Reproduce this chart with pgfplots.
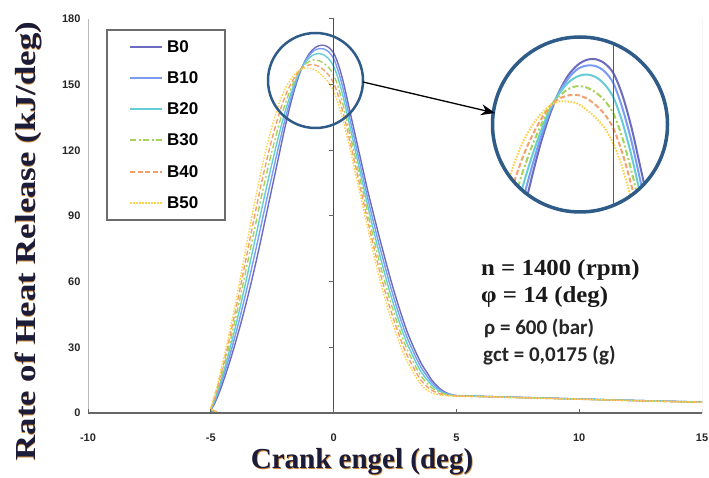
\documentclass[border=0pt]{standalone}
\usepackage{graphicx}
\usepackage{pgfplots}
\pgfplotsset{compat=1.18}
\usepackage{pgfplotstable}
\usetikzlibrary{arrows.meta}
\usepackage{fontspec}
\setmainfont{Liberation Serif}
\newfontfamily\arialf{Liberation Sans}
\newfontfamily\calf{Carlito}
\definecolor{cB0}{HTML}{6B6BBF}
\definecolor{cB10}{HTML}{7B9CF5}
\definecolor{cB20}{HTML}{66CCD6}
\definecolor{cB30}{HTML}{A6D35A}
\definecolor{cB40}{HTML}{F5A06E}
\definecolor{cB50}{HTML}{FFD24D}
\definecolor{circ}{HTML}{2F5B88}
\definecolor{txt}{HTML}{1B1B3A}
\definecolor{shd}{HTML}{D08A3A}
\pgfplotstableread{
x B0 B10 B20 B30 B40 B50
-10 0 0 0 0 0 0
-5.1 0 0 0 0 0 0
-5.0 1.2 1.5 1.7 2.0 2.2 2.5
-4.8 5.5 6.4 7.3 8.2 9.1 10
-4.6 11 12.6 14.2 15.8 17.4 19
-4.4 17.5 19.7 21.9 24.1 26.3 28.5
-4.2 24.5 27.4 30.3 33.2 36.1 39
-4.0 32 35.6 39.2 42.8 46.4 50
-3.8 40 44.3 48.6 52.9 57.2 61.5
-3.6 48.5 53.5 58.5 63.5 68.5 73.5
-3.4 57.5 63.1 68.7 74.3 79.9 85.5
-3.2 67 73 79 85 91 97
-3.0 77 83.2 89.4 95.6 101.8 108
-2.8 87.5 93.6 99.7 105.8 111.9 118
-2.6 98 103.8 109.6 115.4 121.2 127
-2.4 108.5 113.8 119.1 124.4 129.7 135
-2.2 119 123.6 128.2 132.8 137.4 142
-2.0 129.5 133.1 136.7 140.3 143.9 147.5
-1.8 139 141.5 144 146.5 149 151.5
-1.6 147.5 148.9 150.3 151.7 153.1 154.5
-1.4 154.5 155.2 155.8 156.2 156.5 156.5
-1.2 160 159.8 159.5 158.8 158.2 157.5
-1.0 164 163.2 162.2 160.6 159 157.5
-0.8 166.5 165.5 163.7 161.3 159.1 157
-0.6 167.8 166.4 164.2 161 158.3 155.5
-0.4 168 166.3 163.6 159.8 156.7 153.5
-0.2 167 165 161.8 157.8 154.4 151
0 164.5 162 158.5 154.5 150.8 147
0.2 159 155.8 152.3 148.4 144.6 141
0.4 151 147.6 144 140.2 136.6 133
0.6 141 137.6 134.2 130.8 127.4 124
0.8 131 127.6 124.2 120.8 117.4 114
1.0 121 117.6 114.2 110.8 107.4 104
1.2 111 107.6 104.2 100.8 97.4 94
1.4 101 97.6 94.2 90.8 87.4 84
1.6 92 88.4 84.8 81.2 77.6 74
1.8 83 79.3 75.6 71.9 68.2 64.5
2.0 74.5 70.8 67.1 63.4 59.7 56
2.2 66 62.4 58.8 55.2 51.6 48
2.4 58 54.6 51.2 47.8 44.4 41
2.6 50.5 47.3 44.1 40.9 37.7 34.5
2.8 43.5 40.5 37.5 34.5 31.5 28.5
3.0 37 34.3 31.6 28.9 26.2 23.5
3.2 31.5 29.1 26.7 24.3 21.9 19.5
3.4 26.5 24.3 22.1 19.9 17.7 15.5
3.6 22 20.1 18.2 16.3 14.4 12.5
3.8 18.5 16.9 15.3 13.7 12.1 10.5
4.0 15 13.8 12.7 11.5 10.4 9.2
4.2 12.5 11.7 10.9 10.1 9.3 8.5
4.4 10.5 10.0 9.5 9.1 8.6 8.1
4.6 9.2 8.9 8.7 8.4 8.2 7.9
4.8 8.4 8.3 8.2 8.0 7.9 7.8
5.0 8 7.9 7.9 7.8 7.8 7.7
6 7.6 7.6 7.6 7.5 7.5 7.5
8 7 7 7 6.9 6.9 6.9
10 6.4 6.4 6.4 6.3 6.3 6.3
12 5.8 5.8 5.8 5.7 5.7 5.7
15 5 5 5 4.9 4.9 4.9
}\rhr
\tikzset{
  s0/.style={draw=cB0, line width=1.4pt},
  s10/.style={draw=cB10, line width=1.4pt},
  s20/.style={draw=cB20, line width=1.4pt},
  s30/.style={draw=cB30, line width=1.4pt, dash pattern=on 6pt off 2.5pt on 2pt off 2.5pt},
  s40/.style={draw=cB40, line width=1.4pt, dash pattern=on 5pt off 2.5pt},
  s50/.style={draw=cB50, line width=1.4pt, dash pattern=on 1.6pt off 1.4pt},
}
\begin{document}
\begin{tikzpicture}
\useasboundingbox (0,0) rectangle (709pt,477pt);
\begin{axis}[
  at={(88pt,64pt)}, anchor=south west, scale only axis,
  width=614pt, height=394pt,
  xmin=-10, xmax=15, ymin=0, ymax=180,
  xtick={-10,-5,0,5,10,15}, ytick={0,30,60,90,120,150,180},
  axis line style={draw=none}, major tick length=0pt,
  /pgf/number format/assume math mode=true,
  ticklabel style={font=\arialf\bfseries\fontsize{11}{11}\selectfont, text=black!85},
  xticklabel style={yshift=-17pt},
  yticklabel style={xshift=-4pt},
]
\draw[gray!55, line width=1pt] (axis cs:-10,0) -- (axis cs:-10,180);
\draw[gray!55, line width=1pt] (axis cs:15,0) -- (axis cs:15,180);
\addplot[s0, smooth] table[x=x,y=B0]{\rhr};
\addplot[s10, smooth] table[x=x,y=B10]{\rhr};
\addplot[s20, smooth] table[x=x,y=B20]{\rhr};
\addplot[s30, smooth] table[x=x,y=B30]{\rhr};
\addplot[s40, smooth] table[x=x,y=B40]{\rhr};
\addplot[s50, smooth] table[x=x,y=B50]{\rhr};
\draw[black!70, line width=1pt] (axis cs:0,0) -- (axis cs:0,180);
\draw[black!60, line width=1.5pt] (axis cs:-10,0) -- (axis cs:15,0);
\pgfplotsinvokeforeach{-10,-5,0,5,10,15}{\draw[black!60, line width=1pt] ([yshift=-4pt]axis cs:#1,0) -- ([yshift=4pt]axis cs:#1,0);}
\pgfplotsinvokeforeach{30,60,90,120,150,180}{\draw[black!60, line width=1pt] (axis cs:0,#1) -- ([xshift=-5pt]axis cs:0,#1);}
\end{axis}
% legend
\draw[gray!85!black, line width=1.2pt, fill=white] (107pt,257pt) rectangle (225pt,447pt);
\foreach \s/\n/\yy in {s0/B0/430, s10/B10/399, s20/B20/368, s30/B30/337, s40/B40/305, s50/B50/274}{
  \draw[\s] (130pt,\yy pt) -- (162pt,\yy pt);
  \node[anchor=west, inner sep=0pt, font=\arialf\bfseries\fontsize{17}{17}\selectfont] at (167pt,\yy pt) {\n};
}
% inset
\begin{scope}
\clip (580pt,352.5pt) circle (87.5pt);
\fill[white] (580pt,352.5pt) circle (87.5pt);
\begin{axis}[
  at={(492.5pt,265pt)}, anchor=south west, scale only axis,
  width=175pt, height=175pt, xmin=-2.676, xmax=1.196, ymin=130.1, ymax=173.5,
  hide axis, clip=false]
\addplot[s0, line width=2pt, smooth] table[x=x,y=B0]{\rhr};
\addplot[s10, line width=2pt, smooth] table[x=x,y=B10]{\rhr};
\addplot[s20, line width=2pt, smooth] table[x=x,y=B20]{\rhr};
\addplot[s30, line width=2pt, smooth] table[x=x,y=B30]{\rhr};
\addplot[s40, line width=2pt, smooth] table[x=x,y=B40]{\rhr};
\addplot[s50, line width=2pt, smooth] table[x=x,y=B50]{\rhr};
\draw[black!65, line width=1.6pt] (axis cs:0,120) -- (axis cs:0,180);
\end{axis}
\end{scope}
\draw[circ, line width=3.5pt] (580pt,352.5pt) circle (87.5pt);
\draw[circ, line width=2.5pt] (315.5pt,396.5pt) circle (47.5pt);
\draw[black, line width=1.3pt, -{Stealth[length=14pt,width=11pt]}] (363pt,395pt) -- (495pt,364pt);
% axis labels
\node[text=shd] at (362.8pt,14.2pt) {\fontsize{29}{29}\selectfont\bfseries Crank engel (deg)};
\node[text=txt] at (362pt,15pt) {\fontsize{29}{29}\selectfont\bfseries Crank engel (deg)};
\node[rotate=90, text=shd] at (28.8pt,235.2pt) {\scalebox{1.2}[1]{\fontsize{29}{29}\selectfont\bfseries Rate of Heat Release (kJ/deg)}};
\node[rotate=90, text=txt] at (28pt,236pt) {\scalebox{1.2}[1]{\fontsize{29}{29}\selectfont\bfseries Rate of Heat Release (kJ/deg)}};
% annotation
\node[anchor=west, text=black!90, inner sep=0pt] at (481pt,207pt) {\scalebox{1.08}[1]{\fontsize{23}{23}\selectfont\bfseries n = 1400 (rpm)}};
\node[anchor=west, text=black!90, inner sep=0pt] at (481pt,180pt) {\scalebox{1.08}[1]{\fontsize{23}{23}\selectfont\bfseries φ = 14 (deg)}};
\node[anchor=west, text=black!85, inner sep=0pt] at (484pt,149pt) {\calf\fontsize{21}{21}\selectfont\bfseries ρ = 600 (bar)};
\node[anchor=west, text=black!85, inner sep=0pt] at (483pt,122pt) {\calf\fontsize{21}{21}\selectfont\bfseries gct = 0,0175 (g)};
\end{tikzpicture}
\end{document}
